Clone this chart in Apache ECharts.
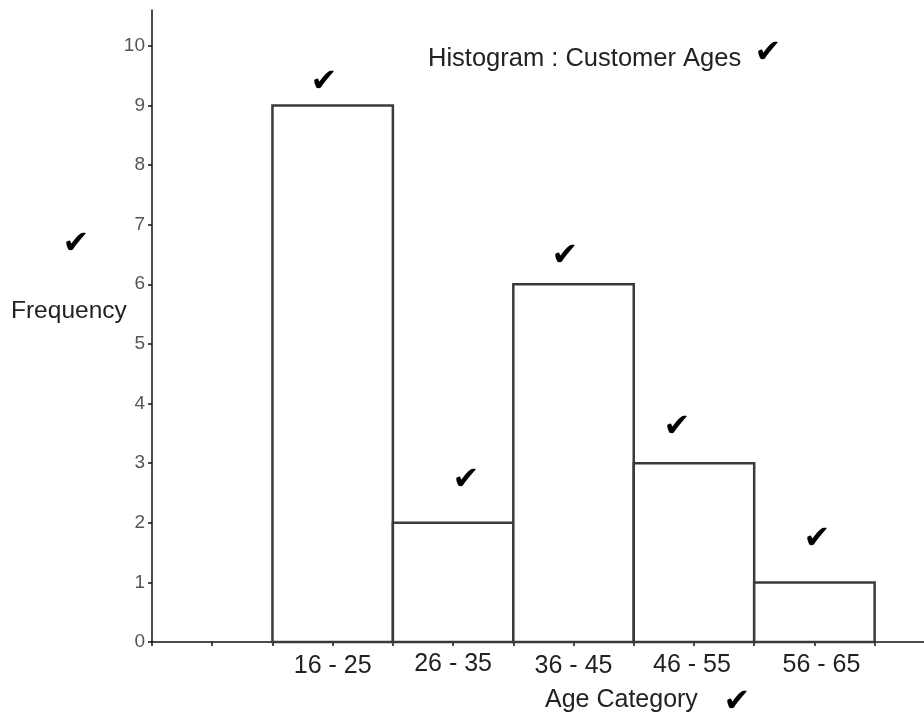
<!DOCTYPE html>
<html>
<head>
<meta charset="utf-8">
<script src="https://cdn.jsdelivr.net/npm/echarts@6/dist/echarts.min.js"></script>
<style>html,body{margin:0;padding:0;background:#fff}#c{width:924px;height:715px}</style>
</head>
<body>
<div id="c"></div>
<script>
// ---- data ----
const categories = ['16 - 25', '26 - 35', '36 - 45', '46 - 55', '56 - 65'];
const frequencies = [9, 2, 6, 3, 1];
const binStart = [1, 2, 3, 4, 5];          // position of each bin on the x axis (bin width = 1)
const yTicks = [0, 1, 2, 3, 4, 5, 6, 7, 8, 9, 10];
const xTicks = [0, 0.5, 1, 1.5, 2, 2.5, 3, 3.5, 4, 4.5, 5, 5.5, 6];
const titleText = 'Histogram : Customer Ages';
const xName = 'Age Category';
const yName = 'Frequency';

// ---- layout (not data) ----
const labelOffsets = [[0, 24], [0, 22], [0, 24], [-2, 23], [7, 23]];
const checks = [[324, 83], [76, 245], [768, 54], [565, 257], [466, 481], [677, 428], [817, 540], [737, 703]];
const font = '"Liberation Sans", Arial, sans-serif';

const chart = echarts.init(document.getElementById('c'), null, { renderer: 'canvas' });

const graphics = [
  { type: 'text', left: 428, top: 46, style: { text: titleText, font: '25.5px ' + font, fill: '#222' } },
  { type: 'text', left: 11, top: 299, style: { text: yName, font: '24.5px ' + font, fill: '#222' } },
  { type: 'text', left: 545, top: 688, style: { text: xName, font: '25px ' + font, fill: '#222' } }
];
checks.forEach(function (p) {
  graphics.push({
    type: 'text', x: p[0], y: p[1],
    style: { text: '\u2714', font: '32px "DejaVu Sans", sans-serif', fill: '#000', align: 'center', verticalAlign: 'middle' }
  });
});

const option = {
  animation: false,
  backgroundColor: '#fff',
  grid: { left: 152, right: 0, top: 10, bottom: 73, containLabel: false },
  xAxis: {
    type: 'value', min: 0, max: 6.41,
    axisLine: { show: true, lineStyle: { color: '#111', width: 1.5 } },
    axisTick: { show: true, length: 4, customValues: xTicks, lineStyle: { color: '#111', width: 1.5 } },
    axisLabel: { show: false },
    splitLine: { show: false }
  },
  yAxis: {
    type: 'value', min: 0, max: 10.6,
    axisLine: { show: true, lineStyle: { color: '#111', width: 1.5 } },
    axisTick: { show: true, length: 4, customValues: yTicks, lineStyle: { color: '#111', width: 1.5 } },
    axisLabel: { show: true, customValues: yTicks, fontSize: 19, fontFamily: font, color: '#555', margin: 7 },
    splitLine: { show: false }
  },
  series: [
    {
      type: 'custom',
      data: frequencies.map(function (v, i) { return [binStart[i], v]; }),
      renderItem: function (params, api) {
        const s = api.value(0), v = api.value(1);
        const p0 = api.coord([s, v]);
        const p1 = api.coord([s + 1, 0]);
        return {
          type: 'rect',
          shape: { x: p0[0], y: p0[1], width: p1[0] - p0[0], height: p1[1] - p0[1] },
          style: { fill: '#fff', stroke: '#3a3a3a', lineWidth: 2.5 }
        };
      },
      z: 2
    },
    {
      type: 'custom',
      data: categories.map(function (c, i) { return [binStart[i] + 0.5, 0, c]; }),
      renderItem: function (params, api) {
        const p = api.coord([api.value(0), 0]);
        const off = labelOffsets[params.dataIndex];
        return {
          type: 'text',
          x: p[0] + off[0], y: p[1] + off[1],
          style: { text: categories[params.dataIndex], font: '25px ' + font, fill: '#222', align: 'center', verticalAlign: 'middle' }
        };
      },
      z: 3
    }
  ],
  graphic: graphics
};
chart.setOption(option);
</script>
</body>
</html>
